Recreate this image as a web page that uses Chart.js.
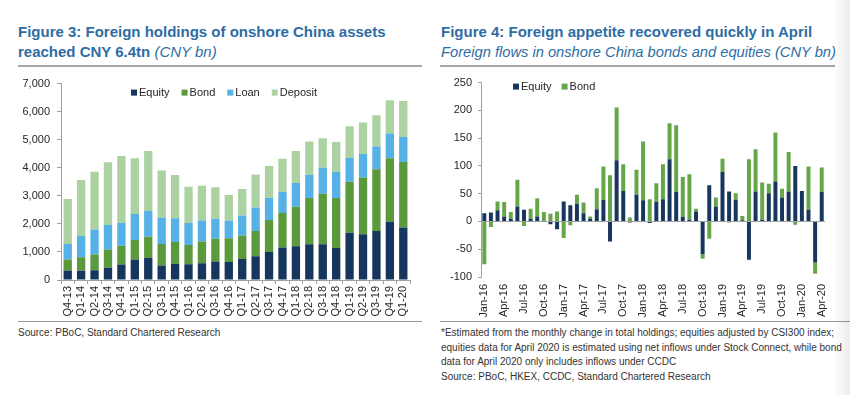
<!DOCTYPE html>
<html lang="en">
<head>
<meta charset="UTF-8">
<title>Foreign holdings and flows</title>
<script src="https://cdn.jsdelivr.net/npm/chart.js"></script>
<style>
    html, body {
        margin: 0;
        padding: 0;
        background: #fff;
    }
    body {
        width: 850px;
        height: 395px;
        position: relative;
        overflow: hidden;
        font-family: "Liberation Sans", Arial, sans-serif;
    }
    .title {
        position: absolute;
        color: #2e6da4;
        font-weight: bold;
        font-size: 15px;
        line-height: 19.5px;
        white-space: nowrap;
    }
    .title i {
        font-weight: normal;
    }
    .title .sub {
        font-size: 14.7px;
    }
    .rule {
        position: absolute;
        height: 2px;
        background: #a6a6a6;
    }
    .thin {
        position: absolute;
        height: 1px;
        background: #9a9a9a;
    }
    .note {
        position: absolute;
        font-size: 10px;
        color: #333;
        line-height: 14.5px;
        white-space: nowrap;
    }
    canvas {
        position: absolute;
    }
    .shade {
        position: absolute;
        top: 0;
        right: 0;
        width: 16px;
        height: 395px;
        background: linear-gradient(to right, rgba(0,0,0,0), rgba(0,0,0,0.08));
    }
</style>
</head>
<body>
<div class="title" style="left:18px; top:22px;">Figure 3: Foreign holdings of onshore China assets<br>reached CNY 6.4tn <i>(CNY bn)</i></div>
<div class="rule" style="left:18px; top:65px; width:404px;"></div>
<div class="title" style="left:441px; top:22px;">Figure 4: Foreign appetite recovered quickly in April<br><i class="sub">Foreign flows in onshore China bonds and equities (CNY bn)</i></div>
<div class="rule" style="left:440px; top:65px; width:395px;"></div>

<canvas id="holdings" width="425" height="255" style="left:0; top:70px;"></canvas>
<canvas id="flows" width="412" height="252" style="left:430px; top:70px;"></canvas>

<div class="thin" style="left:18px; top:321px; width:404px;"></div>
<div class="thin" style="left:440px; top:321px; width:410px;"></div>
<div class="note" style="left:18px; top:326px;">Source: PBoC, Standard Chartered Research</div>
<div class="note" style="left:441px; top:326px;">*Estimated from the monthly change in total holdings; equities adjusted by CSI300 index;<br>equities data for April 2020 is estimated using net inflows under Stock Connect, while bond<br>data for April 2020 only includes inflows under CCDC<br>Source: PBoC, HKEX, CCDC, Standard Chartered Research</div>
<div class="shade"></div>

<script>
    // Figure 3 - quarterly holdings (CNY bn)
    const quarters = ['Q4-13', 'Q1-14', 'Q2-14', 'Q3-14', 'Q4-14', 'Q1-15', 'Q2-15', 'Q3-15', 'Q4-15',
        'Q1-16', 'Q2-16', 'Q3-16', 'Q4-16', 'Q1-17', 'Q2-17', 'Q3-17', 'Q4-17', 'Q1-18', 'Q2-18',
        'Q3-18', 'Q4-18', 'Q1-19', 'Q2-19', 'Q3-19', 'Q4-19', 'Q1-20'];
    const equityHold = [340, 330, 350, 440, 550, 730, 790, 520, 580, 560, 600, 660, 640, 745, 850, 1000,
        1160, 1200, 1270, 1270, 1140, 1680, 1630, 1750, 2080, 1870];
    const bondHold = [390, 480, 560, 650, 670, 700, 750, 760, 770, 690, 770, 810, 850, 835, 900, 1140,
        1230, 1410, 1650, 1800, 1780, 1820, 2020, 2200, 2260, 2340];
    const loanHold = [550, 760, 890, 870, 820, 920, 920, 940, 850, 780, 750, 710, 630, 720, 830, 790,
        750, 850, 830, 930, 930, 850, 840, 810, 880, 890];
    const depositHold = [1610, 1990, 2060, 2240, 2380, 1990, 2140, 1680, 1540, 1290, 1240, 1130, 910, 940,
        1180, 1130, 1180, 1140, 1190, 1050, 1070, 1130, 1120, 1110, 1190, 1280];

    // Figure 4 - monthly flows (CNY bn)
    const months = ['Jan-16', 'Feb-16', 'Mar-16', 'Apr-16', 'May-16', 'Jun-16', 'Jul-16', 'Aug-16', 'Sep-16', 'Oct-16', 'Nov-16', 'Dec-16',
        'Jan-17', 'Feb-17', 'Mar-17', 'Apr-17', 'May-17', 'Jun-17', 'Jul-17', 'Aug-17', 'Sep-17', 'Oct-17', 'Nov-17', 'Dec-17',
        'Jan-18', 'Feb-18', 'Mar-18', 'Apr-18', 'May-18', 'Jun-18', 'Jul-18', 'Aug-18', 'Sep-18', 'Oct-18', 'Nov-18', 'Dec-18',
        'Jan-19', 'Feb-19', 'Mar-19', 'Apr-19', 'May-19', 'Jun-19', 'Jul-19', 'Aug-19', 'Sep-19', 'Oct-19', 'Nov-19', 'Dec-19',
        'Jan-20', 'Feb-20', 'Mar-20', 'Apr-20'];
    const equityFlow = [15, 16, 20, 9, 5, 27, 21, 5, 9, 1, -5, -14,
        36, 29, 32, 15, 5, 22, 39, -36, 110, 55, -2, 48,
        38, -3, 35, 40, 112, 53, 8, 3, 18, -59, 65, 27,
        89, 54, 39, 2, -69, 54, 3, 51, 72, 43, 54, 100,
        55, 21, -74, 53];
    const bondFlow = [-77, -10, 16, 26, 12, 48, -8, 18, 33, 16, 14, 18,
        -30, -7, 16, 19, 4, 38, 60, 83, 95, 48, 7, 45,
        106, 40, 34, 63, 65, 120, 72, 82, 5, -8, -31, 16,
        24, -2, 12, 8, 112, 76, 67, 17, 88, 16, 71, -6,
        0, 78, -20, 44];

    const fontFamily = '"Liberation Sans", Arial, sans-serif';
    const axisGrey = '#a0a0a0';
    const textGrey = '#262626';

    // legend drawn inside the plot area, like the Excel original
    const insideLegend = {
        id: 'insideLegend',
        afterDraw(chart, args, opts) {
            const ctx = chart.ctx;
            ctx.save();
            ctx.font = '11px ' + fontFamily;
            ctx.textBaseline = 'middle';
            let x = chart.chartArea.left + opts.x;
            const y = chart.chartArea.top + opts.y;
            chart.data.datasets.forEach(ds => {
                ctx.fillStyle = ds.backgroundColor;
                ctx.fillRect(x, y - 3, 6, 6);
                ctx.fillStyle = textGrey;
                ctx.fillText(ds.label, x + 8, y + 0.5);
                x += 8 + ctx.measureText(ds.label).width + opts.gap;
            });
            ctx.restore();
        }
    };

    Chart.defaults.font.family = fontFamily;
    Chart.defaults.color = textGrey;

    new Chart(document.getElementById('holdings'), {
        type: 'bar',
        data: {
            labels: quarters,
            datasets: [
                { label: 'Equity', data: equityHold, backgroundColor: '#17365d' },
                { label: 'Bond', data: bondHold, backgroundColor: '#5b9a3c' },
                { label: 'Loan', data: loanHold, backgroundColor: '#56b1e6' },
                { label: 'Deposit', data: depositHold, backgroundColor: '#acd2a2' }
            ]
        },
        options: {
            responsive: false,
            animation: false,
            layout: { padding: { top: 10, right: 15 } },
            datasets: { bar: { categoryPercentage: 1, barPercentage: 0.62 } },
            plugins: {
                legend: { display: false },
                tooltip: { enabled: false },
                insideLegend: { x: 70, y: 9, gap: 12 }
            },
            scales: {
                x: {
                    stacked: true,
                    afterFit: s => { s.height = 45; },
                    border: { color: axisGrey },
                    grid: { offset: true, drawOnChartArea: false, tickLength: 4, color: axisGrey },
                    ticks: { autoSkip: false, minRotation: 90, maxRotation: 90, padding: 2, font: { size: 11 } }
                },
                y: {
                    stacked: true,
                    min: 0,
                    max: 7000,
                    afterFit: s => { s.width = 61; },
                    border: { color: axisGrey },
                    grid: { drawOnChartArea: false, tickLength: 4, color: axisGrey },
                    ticks: {
                        stepSize: 1000,
                        padding: 7,
                        font: { size: 11 },
                        callback: v => v.toLocaleString('en-US')
                    }
                }
            }
        },
        plugins: [insideLegend]
    });

    new Chart(document.getElementById('flows'), {
        type: 'bar',
        data: {
            labels: months,
            datasets: [
                { label: 'Equity', data: equityFlow, backgroundColor: '#17365d' },
                { label: 'Bond', data: bondFlow, backgroundColor: '#64a648' }
            ]
        },
        options: {
            responsive: false,
            animation: false,
            layout: { padding: { top: 10, right: 7 } },
            datasets: { bar: { categoryPercentage: 1, barPercentage: 0.6 } },
            plugins: {
                legend: { display: false },
                tooltip: { enabled: false },
                insideLegend: { x: 32, y: 4, gap: 10 }
            },
            scales: {
                x: {
                    stacked: true,
                    afterFit: s => { s.height = 45; },
                    border: { display: false },
                    grid: { display: false, drawTicks: false },
                    ticks: {
                        autoSkip: false,
                        minRotation: 90,
                        maxRotation: 90,
                        padding: 7,
                        font: { size: 11 },
                        callback: function (val, i) {
                            return i % 3 === 0 ? this.getLabelForValue(val) : '';
                        }
                    }
                },
                y: {
                    stacked: true,
                    min: -100,
                    max: 250,
                    afterFit: s => { s.width = 51; },
                    border: { color: axisGrey },
                    grid: {
                        drawOnChartArea: true,
                        tickLength: 3,
                        tickColor: axisGrey,
                        color: c => (c.tick && c.tick.value === 0) ? axisGrey : 'rgba(0,0,0,0)'
                    },
                    ticks: { stepSize: 50, padding: 6, font: { size: 11 } }
                }
            }
        },
        plugins: [insideLegend]
    });
</script>
</body>
</html>
